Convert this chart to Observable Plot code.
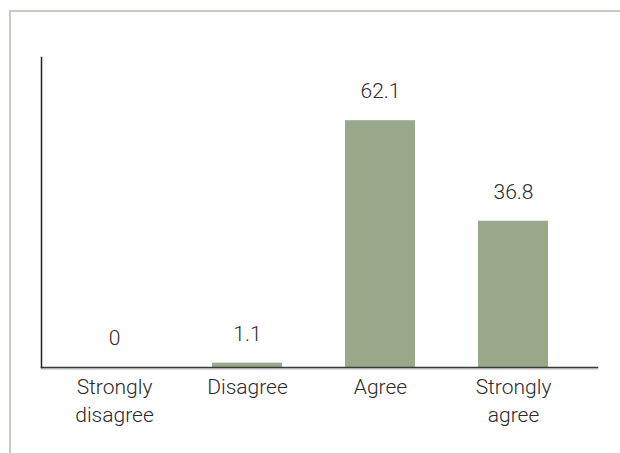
<!DOCTYPE html>
<html>
<head>
<meta charset="utf-8">
<script src="https://cdn.jsdelivr.net/npm/d3@7"></script>
<script src="https://cdn.jsdelivr.net/npm/@observablehq/plot@0.6"></script>
<style>
  html, body { margin: 0; padding: 0; background: #fff; }
  #wrap { position: relative; width: 620px; height: 453px; overflow: hidden; }
  #border { position: absolute; left: 9px; top: 10px; width: 700px; height: 600px;
            border-left: 2px solid #c8ccc0; border-top: 2px solid #c8ccc0; box-sizing: border-box; }
  #chart { position: absolute; left: 0; top: 0; }
</style>
</head>
<body>
<div id="wrap"><div id="border"></div><div id="chart"></div></div>
<script>
const categories = ["Strongly disagree", "Disagree", "Agree", "Strongly agree"];
const values = [0, 1.1, 62.1, 36.8];
const tickLabels = ["Strongly\ndisagree", "Disagree", "Agree", "Strongly\nagree"];

const data = categories.map((c, i) => ({category: c, value: values[i]}));
const labelOf = new Map(categories.map((c, i) => [c, tickLabels[i]]));

const chart = Plot.plot({
  width: 620,
  height: 453,
  marginLeft: 41,
  marginRight: 23,
  marginTop: 57,
  marginBottom: 86,
  style: {fontFamily: "Roboto", fontWeight: 300, background: "transparent", color: "#2a2a2a"},
  x: {domain: categories, paddingInner: 0.476, paddingOuter: 0.32, align: 0.44, axis: null},
  y: {domain: [0, 78], axis: null},
  marks: [
    Plot.barY(data, {x: "category", y: "value", fill: "#98a889"}),
    Plot.frame({anchor: "bottom", stroke: "#cccccc", strokeWidth: 1.5, dy: 1.5}),
    Plot.frame({anchor: "bottom", stroke: "#3a3a3a", strokeWidth: 1.5}),
    Plot.frame({anchor: "left", stroke: "#222", strokeWidth: 1.5}),
    Plot.text(data, {x: "category", y: "value", text: d => String(d.value), dy: -29,
      lineAnchor: "middle", fontSize: 21, fontWeight: 300, fill: "#2a2a2a"}),
    Plot.axisX({tickSize: 0, tickPadding: 7, fontSize: 21, fontWeight: 300, lineHeight: 1.33,
      tickFormat: d => labelOf.get(d), fill: "#2a2a2a", label: null})
  ]
});
document.getElementById("chart").appendChild(chart);
</script>
</body>
</html>
